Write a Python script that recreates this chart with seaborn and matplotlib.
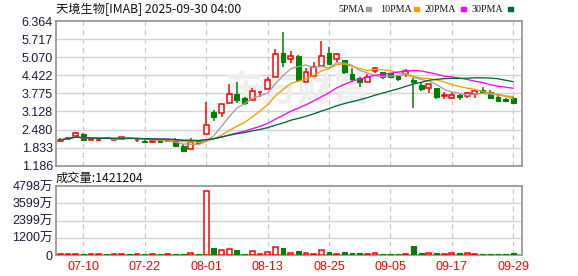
import numpy as np
import pandas as pd
import matplotlib
matplotlib.use("Agg")
import matplotlib.pyplot as plt
import seaborn as sns

# ---------------- data ----------------
dates = ["07-07","07-08","07-09","07-10","07-11","07-14","07-15","07-16","07-17","07-18",
         "07-21","07-22","07-23","07-24","07-25","07-28","07-29","07-30","07-31","08-01",
         "08-04","08-05","08-06","08-07","08-08","08-11","08-12","08-13","08-14","08-15",
         "08-18","08-19","08-20","08-21","08-22","08-25","08-26","08-27","08-28","08-29",
         "09-02","09-03","09-04","09-05","09-08","09-09","09-10","09-11","09-12","09-15",
         "09-16","09-17","09-18","09-19","09-22","09-23","09-24","09-25","09-26","09-29"]
opens  = [2.08,2.15,2.25,2.32,2.12,2.10,2.20,2.11,2.15,2.19,
          2.09,2.08,2.04,2.07,2.06,2.14,1.90,1.78,2.07,2.31,
          3.12,3.08,3.42,3.75,3.60,3.53,3.82,3.94,4.37,5.21,
          4.99,5.12,4.19,4.41,4.76,5.21,4.99,4.97,4.47,4.31,
          4.19,4.57,4.55,4.51,4.41,4.47,4.25,4.07,3.96,3.98,
          3.68,3.62,3.72,3.68,3.74,3.89,3.83,3.66,3.57,3.60]
highs  = [2.18,2.22,2.40,2.36,2.17,2.15,2.22,2.18,2.23,2.21,
          2.18,2.10,2.08,2.10,2.12,2.16,1.95,2.16,2.10,3.45,
          3.18,3.38,4.11,4.18,3.65,3.95,3.84,4.37,5.36,5.96,
          5.29,5.15,4.69,4.91,5.65,5.42,5.23,4.97,4.69,4.35,
          4.45,4.72,4.55,4.51,4.41,4.66,4.31,4.18,4.11,3.98,
          3.83,3.81,3.80,3.84,3.87,4.00,3.89,3.74,3.62,3.66]
lows   = [2.02,2.13,2.20,2.06,2.09,2.07,2.13,2.09,2.12,2.13,
          2.05,2.03,2.02,2.02,2.04,1.88,1.66,1.77,1.97,2.31,
          2.78,2.94,3.42,3.44,3.35,3.53,3.63,3.94,4.37,4.73,
          4.85,4.19,4.19,4.41,4.76,4.81,4.90,4.45,4.19,4.00,
          4.19,4.52,4.28,4.35,4.22,4.35,3.24,3.85,3.78,3.58,
          3.56,3.58,3.55,3.62,3.61,3.78,3.56,3.46,3.46,3.41]
closes = [2.11,2.19,2.34,2.10,2.14,2.12,2.16,2.14,2.20,2.16,
          2.11,2.05,2.06,2.05,2.08,1.90,1.72,2.02,1.99,2.64,
          2.94,3.38,3.75,3.54,3.44,3.87,3.84,4.24,5.17,4.91,
          5.10,4.24,4.53,4.71,5.10,4.81,5.17,4.53,4.28,4.19,
          4.37,4.67,4.37,4.37,4.29,4.57,4.19,3.93,4.11,3.66,
          3.70,3.72,3.66,3.78,3.87,3.83,3.60,3.51,3.51,3.43]
volumes = [90,80,90,100,80,70,80,80,90,80,
           80,90,80,80,90,90,100,150,90,4450,
           465,330,450,340,100,270,90,200,560,510,
           150,280,150,80,350,220,80,220,150,150,
           80,150,80,80,80,80,630,150,150,150,
           80,150,150,150,80,80,80,80,80,142]  # 万
price_ticks = [1.186,1.833,2.480,3.128,3.775,4.422,5.070,5.717,6.364]
vol_ticks = [0,1200,2399,3599,4798]
vol_tick_labels = ["0","1200万","2399万","3599万","4798万"]
label_dates = ["07-10","07-22","08-01","08-13","08-25","09-05","09-17","09-29"]
ma_periods = [5,10,20,30]
ma_names = ["5PMA","10PMA","20PMA","30PMA"]
ma_colors = ["#a0a0a0","#f0a000","#ff00ff","#006a32"]

# ---------------- build ----------------
df = pd.DataFrame({"date":dates,"open":opens,"high":highs,"low":lows,
                   "close":closes,"vol":volumes})
df["idx"] = np.arange(len(df))
up = df["close"] >= df["open"]
RED, GREEN = "#ff0000", "#008000"

sns.set_theme(style="white")
plt.rcParams["font.family"] = ["Liberation Sans", "Noto Sans CJK SC", "DejaVu Sans"]

W, H = 578, 276
fig = plt.figure(figsize=(W/100, H/100), dpi=100)
def fx(px): return px / W
def fy(py): return 1 - py / H

L, R = 55.7, 521.7
axp = fig.add_axes([fx(L), fy(165.7), fx(R-L), fy(21)-fy(165.7)])
axv = fig.add_axes([fx(L), fy(255), fx(R-L), fy(186.3)-fy(255)])

xlim = (-0.6, 60.1)
bw = 0.62
grid_c = "#d4d4d4"
label_pos = [dates.index(d) for d in label_dates]

for ax in (axp, axv):
    ax.set_xlim(*xlim)
    for s in ax.spines.values():
        s.set_color("#9a9a9a"); s.set_linewidth(1.3)
    for xp in label_pos:
        ax.axvline(xp, color="#c8c8c8", lw=0.9, ls=(0, (4, 3)), zorder=0)
    ax.set_facecolor("white")

# price panel
axp.set_ylim(price_ticks[0], price_ticks[-1])
axp.set_yticks(price_ticks)
axp.set_yticklabels([f"{t:.3f}" for t in price_ticks], fontsize=9, color="#1a1a40")
for t in price_ticks[1:-1]:
    axp.axhline(t, color=grid_c, lw=1, zorder=0)
axp.tick_params(axis="y", length=0, pad=2)
axp.set_xticks([])

axp.text(0.52, 0.52, "东方财富", transform=axp.transAxes, ha="center", va="center",
         fontsize=26, fontweight="bold", color="#eeeeee", style="italic",
         family=["Noto Sans CJK SC"], zorder=0.5)

# wicks
for i, r in df.iterrows():
    c = RED if up[i] else GREEN
    lo_b, hi_b = min(r.open, r.close), max(r.open, r.close)
    axp.vlines(r.idx, r.low, lo_b, color=c, lw=1.1, zorder=2)
    axp.vlines(r.idx, hi_b, r.high, color=c, lw=1.1, zorder=2)
# bodies
bot = np.minimum(df.open, df.close)
hgt = np.maximum(np.abs(df.close - df.open), 0.012)
axp.bar(df.idx[up], hgt[up], bottom=bot[up], width=bw, facecolor="white",
        edgecolor=RED, linewidth=1.1, zorder=3)
axp.bar(df.idx[~up], hgt[~up], bottom=bot[~up], width=bw, facecolor=GREEN,
        edgecolor=GREEN, linewidth=0.8, zorder=3)

# moving averages (seaborn lines)
for n, name, col in zip(ma_periods, ma_names, ma_colors):
    ma = df["close"].rolling(n, min_periods=1).mean()
    sns.lineplot(x=df.idx, y=ma, ax=axp, color=col, lw=0.95, zorder=4, legend=False)
axp.set_xlabel(""); axp.set_ylabel("")

# volume panel
axv.set_ylim(0, vol_ticks[-1])
axv.set_yticks(vol_ticks)
axv.set_yticklabels(vol_tick_labels, fontsize=9, color="#1a1a40")
for t in vol_ticks[1:-1]:
    axv.axhline(t, color=grid_c, lw=1, zorder=0)
axv.tick_params(axis="y", length=0, pad=2)
axv.bar(df.idx[up], df.vol[up], width=bw, facecolor="white", edgecolor=RED,
        linewidth=1.1, zorder=3)
axv.bar(df.idx[~up], df.vol[~up], width=bw, facecolor=GREEN, edgecolor=GREEN,
        linewidth=0.8, zorder=3)
axv.set_xticks(label_pos)
axv.set_xticklabels(label_dates, fontsize=9, color=RED)
axv.tick_params(axis="x", length=0, pad=4)
axv.set_xlabel(""); axv.set_ylabel("")

# header texts
fig.text(fx(56), fy(9), "天境生物[IMAB] 2025-09-30 04:00", fontsize=8.8,
         va="center", ha="left", color="#111111",
         family=["Noto Sans CJK SC", "DejaVu Sans"])
leg_x = [338, 380, 425, 472]
sq_x = [366, 414, 461, 508]
for name, col, lx, sx in zip(ma_names, ma_colors, leg_x, sq_x):
    fig.text(fx(lx), fy(9), name, fontsize=7.2, va="center", ha="left",
             color="#111111", family=["Liberation Serif"])
    fig.patches.append(plt.Rectangle((fx(sx), fy(11)), fx(5), fy(7)-fy(11),
                                     transform=fig.transFigure, color=col))
fig.text(fx(56), fy(178), "成交量:1421204", fontsize=8.8, va="center", ha="left",
         color="#111111", family=["Noto Sans CJK SC", "DejaVu Sans"])

fig.savefig("out.png", dpi=100)
